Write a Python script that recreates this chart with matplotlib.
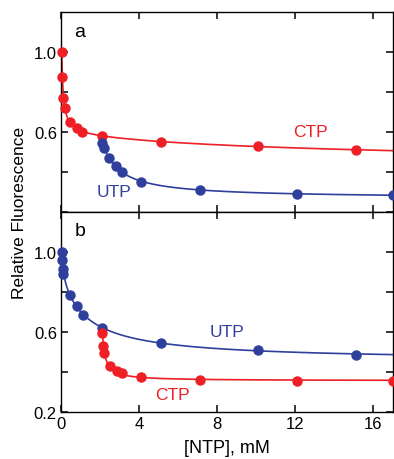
import numpy as np
import matplotlib
matplotlib.use('Agg')
import matplotlib.pyplot as plt

plt.rcParams['font.family'] = ['Liberation Sans', 'DejaVu Sans']

RED = '#ee1f25'
BLUE = '#2f3f9c'

# panel a: CTP titration, then UTP added on top
ctp_a_x = [0.03, 0.07, 0.12, 0.19, 0.48, 0.8, 1.08, 2.12, 5.13, 10.1, 15.1]
ctp_a_y = [1.0, 0.877, 0.77, 0.72, 0.65, 0.62, 0.60, 0.58, 0.55, 0.53, 0.51]
utp_a_x = [2.12, 2.2, 2.48, 2.79, 3.1, 4.12, 7.13, 12.1, 17.0]
utp_a_y = [0.545, 0.52, 0.47, 0.43, 0.40, 0.35, 0.31, 0.29, 0.285]

# panel b: UTP titration, then CTP added on top
utp_b_x = [0.03, 0.07, 0.1, 0.12, 0.48, 0.8, 1.1, 2.12, 5.13, 10.1, 15.1]
utp_b_y = [1.0, 0.96, 0.915, 0.89, 0.785, 0.728, 0.686, 0.62, 0.545, 0.51, 0.487]
ctp_b_x = [2.12, 2.17, 2.2, 2.5, 2.85, 3.13, 4.12, 7.13, 12.1, 17.0]
ctp_b_y = [0.595, 0.53, 0.497, 0.43, 0.405, 0.393, 0.376, 0.36, 0.353, 0.353]


# Fit y = a + sum(b_i / (1 + (x - x0)/K_i)) by grid search over K
def fit_curve(x, y, x0=0.0, two_terms=True):
    x = np.asarray(x) - x0
    y = np.asarray(y)
    best = None
    k1s = np.logspace(-2.0, 0.5, 60)
    k2s = np.logspace(-1, 1.5, 40) if two_terms else [None]
    for k1 in k1s:
        for k2 in k2s:
            cols = [np.ones_like(x), 1 / (1 + x / k1)]
            if k2 is not None:
                cols.append(1 / (1 + x / k2))
            A = np.column_stack(cols)
            coef, *_ = np.linalg.lstsq(A, y, rcond=None)
            err = np.sum((A @ coef - y) ** 2)
            if best is None or err < best[0]:
                best = (err, coef, k1, k2)
    _, coef, k1, k2 = best

    def f(xx):
        xx = np.asarray(xx) - x0
        out = coef[0] + coef[1] / (1 + xx / k1)
        if k2 is not None:
            out = out + coef[2] / (1 + xx / k2)
        return out
    return f


fig = plt.figure(figsize=(3.94, 4.6), dpi=100)
ax_a = fig.add_axes([0.155, 0.537, 0.842, 0.4347])
ax_b = fig.add_axes([0.155, 0.1022, 0.842, 0.4348])

panels = [
    (ax_a, ctp_a_x, ctp_a_y, RED, utp_a_x, utp_a_y, BLUE, 'a',
     ['', '', '0.6', '', '1.0'], ('CTP', 12.8, 0.6, RED), ('UTP', 2.7, 0.3, BLUE)),
    (ax_b, utp_b_x, utp_b_y, BLUE, ctp_b_x, ctp_b_y, RED, 'b',
     ['0.2', '', '0.6', '', '1.0'], ('UTP', 8.5, 0.6, BLUE), ('CTP', 5.7, 0.287, RED)),
]

for ax, x1, y1, c1, x2, y2, c2, tag, ylabs, lab1, lab2 in panels:
    f1 = fit_curve(x1, y1, 0.0, True)
    xs = np.linspace(x1[0], 17, 400)
    ax.plot(xs, f1(xs), color=c1, lw=1.2, zorder=2)
    f2 = fit_curve(x2, y2, x2[0], False)
    xs2 = np.linspace(x2[0], 17, 300)
    ax.plot(xs2, f2(xs2), color=c2, lw=1.2, zorder=2)
    ax.plot(x1, y1, 'o', color=c1, ms=6.5, clip_on=False, zorder=3)
    ax.plot(x2, y2, 'o', color=c2, ms=6.5, clip_on=False, zorder=3)

    ax.set_xlim(0, 17)
    ax.set_ylim(0.2, 1.2)
    ax.set_xticks([0, 4, 8, 12, 16])
    ax.set_yticks([0.2, 0.4, 0.6, 0.8, 1.0])
    ax.set_yticklabels(ylabs)
    ax.tick_params(direction='in', top=True, right=True, length=5, width=1.1,
                   labelsize=12, pad=3)
    for s in ax.spines.values():
        s.set_linewidth(1.0)
    ax.text(0.04, 0.905, tag, transform=ax.transAxes, fontsize=14,
            va='center', ha='left')
    for txt, tx, ty, col in (lab1, lab2):
        ax.text(tx, ty, txt, color=col, fontsize=12.5, ha='center', va='center')

ax_a.tick_params(labelbottom=False)
ax_b.set_xlabel('[NTP], mM', fontsize=13, labelpad=6)
fig.text(0.05, 0.537, 'Relative Fluorescence', rotation=90, fontsize=12.5,
         ha='center', va='center')

fig.savefig('out.png', dpi=100)
